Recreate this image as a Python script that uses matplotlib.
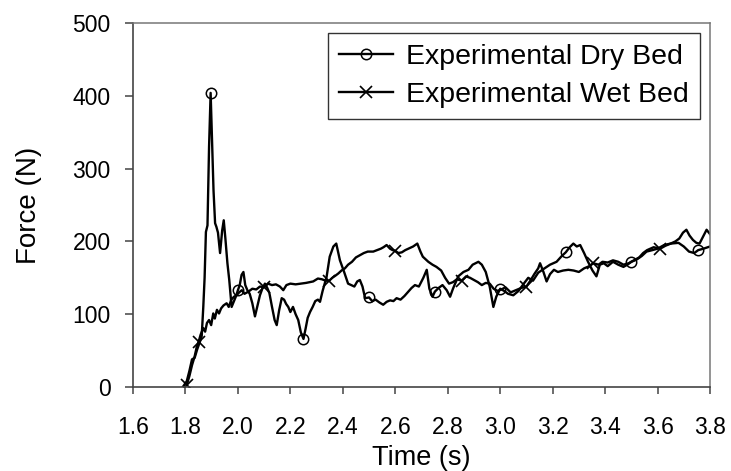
import numpy as np
import matplotlib
matplotlib.use("Agg")
import matplotlib.pyplot as plt

plt.rcParams['font.family'] = ['Liberation Sans', 'DejaVu Sans']

# ---- data ----
dry_t = [1.790, 1.805, 1.815, 1.825, 1.835, 1.845, 1.855, 1.862, 1.868, 1.873, 1.878, 1.884,
         1.890, 1.896, 1.902, 1.907, 1.913, 1.918, 1.924, 1.932, 1.940, 1.946, 1.952, 1.960,
         1.967, 1.976, 1.985, 1.993, 2.000, 2.007, 2.014, 2.021, 2.028, 2.036, 2.045, 2.055,
         2.065, 2.075, 2.084, 2.093, 2.103, 2.112, 2.120, 2.130, 2.140, 2.148, 2.157, 2.167,
         2.176, 2.184, 2.192, 2.200, 2.210, 2.220, 2.230, 2.240, 2.250, 2.258, 2.266, 2.275,
         2.285, 2.295, 2.305, 2.313, 2.323, 2.338, 2.350, 2.364, 2.375, 2.389, 2.405, 2.420,
         2.432, 2.444, 2.455, 2.465, 2.475, 2.485, 2.500, 2.512, 2.525, 2.540, 2.554, 2.567,
         2.580, 2.593, 2.605, 2.620, 2.635, 2.650, 2.662, 2.675, 2.690, 2.707, 2.720, 2.730,
         2.742, 2.751, 2.765, 2.780, 2.796, 2.809, 2.820, 2.840, 2.860, 2.879, 2.895, 2.917,
         2.930, 2.945, 2.960, 2.974, 2.985, 3.000, 3.015, 3.030, 3.050, 3.070, 3.090, 3.107,
         3.125, 3.145, 3.165, 3.190, 3.215, 3.235, 3.250, 3.265, 3.279, 3.292, 3.305, 3.320,
         3.335, 3.352, 3.367, 3.380, 3.395, 3.410, 3.430, 3.450, 3.470, 3.485, 3.500, 3.520,
         3.540, 3.558, 3.580, 3.600, 3.625, 3.650, 3.680, 3.700, 3.720, 3.740, 3.755, 3.775,
         3.800]
dry_f = [0, 8, 22, 38, 40, 52, 62, 70, 110, 150, 213, 222,
         330, 404, 330, 270, 225, 220, 212, 184, 215, 229, 205, 170,
         147, 110, 118, 125, 133, 140, 154, 158, 140, 133, 128, 115,
         97, 112, 126, 135, 142, 136, 129, 110, 92, 85, 105, 122,
         120, 114, 110, 103, 110, 100, 92, 75, 66, 80, 95, 103,
         110, 118, 120, 117, 132, 151, 179, 193, 197, 174, 158, 142,
         140, 138, 145, 147, 138, 122, 123, 118, 120, 116, 113, 117,
         119, 118, 122, 120, 125, 131, 136, 140, 138, 150, 161, 135,
         124, 131, 136, 140, 133, 124, 135, 152, 158, 161, 168, 172,
         168, 158, 138, 110, 124, 135, 132, 128, 126, 132, 142, 150,
         146, 157, 162, 168, 172, 180, 185, 192, 197, 193, 195, 184,
         172, 160, 152, 168, 170, 166, 172, 168, 165, 168, 172, 175,
         180, 186, 188, 190, 195, 197, 198, 193, 186, 184, 188, 190,
         193]
dry_marks = [1.896, 2.000, 2.250, 2.500, 2.751, 3.000, 3.250, 3.500, 3.755]

wet_t = [1.805, 1.815, 1.825, 1.835, 1.843, 1.850, 1.858, 1.868, 1.875, 1.882, 1.890, 1.898,
         1.906, 1.912, 1.920, 1.928, 1.936, 1.945, 1.957, 1.965, 1.975, 1.985, 1.995, 2.005,
         2.015, 2.025, 2.040, 2.055, 2.070, 2.084, 2.100, 2.115, 2.130, 2.145, 2.160, 2.173,
         2.185, 2.200, 2.220, 2.240, 2.260, 2.287, 2.305, 2.320, 2.335, 2.348, 2.360, 2.372,
         2.383, 2.395, 2.408, 2.420, 2.435, 2.450, 2.465, 2.480, 2.495, 2.516, 2.530, 2.545,
         2.555, 2.567, 2.580, 2.590, 2.600, 2.612, 2.625, 2.638, 2.650, 2.668, 2.684, 2.696,
         2.705, 2.726, 2.742, 2.757, 2.775, 2.790, 2.805, 2.820, 2.835, 2.853, 2.870, 2.885,
         2.900, 2.915, 2.930, 2.945, 2.960, 2.975, 2.990, 3.005, 3.020, 3.040, 3.060, 3.080,
         3.100, 3.115, 3.130, 3.145, 3.152, 3.165, 3.177, 3.190, 3.205, 3.220, 3.240, 3.260,
         3.280, 3.300, 3.320, 3.340, 3.355, 3.375, 3.390, 3.410, 3.430, 3.450, 3.470, 3.490,
         3.510, 3.530, 3.545, 3.560, 3.585, 3.610, 3.630, 3.650, 3.668, 3.683, 3.697, 3.710,
         3.722, 3.735, 3.748, 3.760, 3.773, 3.787, 3.800]
wet_f = [3, 15, 30, 42, 55, 62, 72, 81, 76, 88, 92, 85,
         101, 94, 106, 101, 108, 112, 115, 110, 120, 124, 126, 130,
         133, 128, 131, 135, 134, 138, 137, 142, 140, 141, 138, 133,
         140, 142, 141, 142, 143, 145, 149, 148, 146, 146, 150, 153,
         156, 160, 163, 168, 172, 178, 181, 184, 186, 186, 188, 190,
         192, 195, 190, 188, 187, 184, 185, 188, 190, 193, 197, 186,
         179, 172, 168, 165, 160, 150, 142, 144, 148, 146, 152, 150,
         147, 144, 140, 143, 142, 135, 132, 134, 137, 130, 133, 136,
         138, 146, 155, 163, 170, 158, 145, 155, 161, 158, 160, 161,
         160, 158, 163, 166, 170, 168, 172, 171, 174, 172, 168, 170,
         174, 178, 184, 188, 192, 190, 194, 197, 200, 204, 212, 216,
         208, 202, 198, 197, 206, 216, 210]
wet_marks = [1.805, 1.850, 2.100, 2.348, 2.600, 2.853, 3.100, 3.355, 3.610]

x_ticks = [1.6, 1.8, 2.0, 2.2, 2.4, 2.6, 2.8, 3.0, 3.2, 3.4, 3.6, 3.8]
y_ticks = [0, 100, 200, 300, 400, 500]
labels = ["Experimental Dry Bed", "Experimental Wet Bed"]


def mark_idx(t, marks):
    t = np.asarray(t)
    return [int(np.argmin(np.abs(t - m))) for m in marks]


fig = plt.figure(figsize=(7.31, 4.71), dpi=100)
ax = fig.add_axes([133 / 731, 1 - 387 / 471, (710 - 133) / 731, (387 - 23) / 471])

ax.plot(dry_t, dry_f, color='black', lw=1.7, marker='o', markersize=7.5,
        markerfacecolor='none', markeredgecolor='black', markeredgewidth=1.1,
        markevery=mark_idx(dry_t, dry_marks), label=labels[0])
ax.plot(wet_t, wet_f, color='black', lw=1.7, marker='x', markersize=8,
        markeredgewidth=1.2, markevery=mark_idx(wet_t, wet_marks), label=labels[1])

ax.set_xlim(1.6, 3.8)
ax.set_ylim(0, 500)
ax.set_xticks(x_ticks)
ax.set_xticklabels([f"{v:.1f}" for v in x_ticks])
ax.set_yticks(y_ticks)
ax.tick_params(axis='x', direction='out', length=5, width=1.1, color='#444444',
               labelsize=16.5, pad=16)
ax.tick_params(axis='y', direction='out', length=6, width=1.1, color='#444444',
               labelsize=16.5, pad=10)
for s in ['left', 'bottom']:
    ax.spines[s].set_color('#444444')
    ax.spines[s].set_linewidth(1.2)
for s in ['top', 'right']:
    ax.spines[s].set_color('#777777')
    ax.spines[s].set_linewidth(1.1)

ax.set_xlabel("Time (s)", fontsize=19.5, labelpad=4)
ax.set_ylabel("Force (N)", fontsize=20, labelpad=22)

leg = ax.legend(loc='upper right', bbox_to_anchor=(0.983, 0.973), fontsize=20.5,
                frameon=True, fancybox=False, edgecolor='#333333', framealpha=1,
                handlelength=1.9, handletextpad=0.45, borderpad=0.4,
                labelspacing=0.4, borderaxespad=0)
leg.get_frame().set_linewidth(1.0)

fig.savefig("out.png", dpi=100)
